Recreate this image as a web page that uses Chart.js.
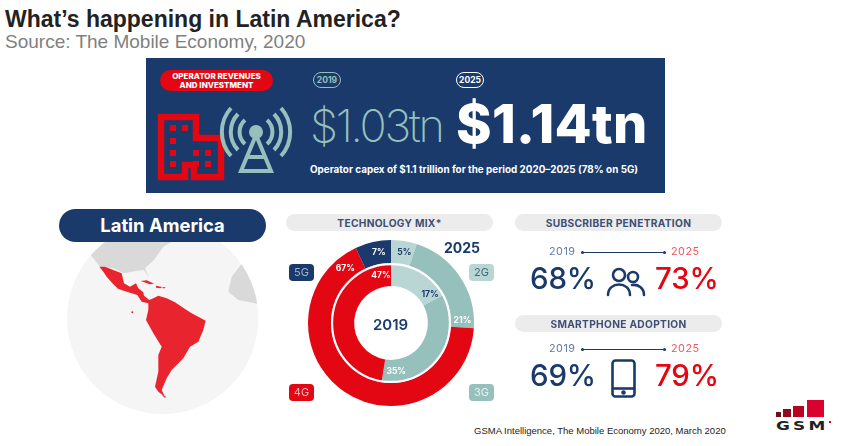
<!DOCTYPE html>
<html>
<head>
<meta charset="utf-8">
<script src="https://cdn.jsdelivr.net/npm/chart.js@4"></script>
<style>
    body { margin: 0; background: #fff; width: 850px; height: 446px; overflow: hidden; position: relative; font-family: Inter, sans-serif; color: #1a3a6b; }
    .t { position: absolute; white-space: nowrap; line-height: 1; }
    .pill { position: absolute; background: #ececec; border-radius: 9px; text-align: center; font-weight: 700; font-size: 10.2px; letter-spacing: .3px; color: #3d4f74; }
    .chip { position: absolute; width: 25px; height: 17px; border-radius: 4px; font-size: 11px; line-height: 17px; text-align: center; }
    .big { font-size: 29.5px; font-weight: 500; letter-spacing: -.2px; }
    .yr { font-size: 10.8px; letter-spacing: .5px; }
    .arrow { position: absolute; height: 1px; background: #1a3a6b; }
    .arrow::before, .arrow::after { content: ''; position: absolute; top: -1px; width: 3px; height: 3px; border-radius: 50%; background: #1a3a6b; }
    .arrow::before { left: 0; }
    .arrow::after { right: 0; }
    svg { position: absolute; overflow: visible; }
    canvas { position: absolute; left: 301px; top: 233px; }
</style>
</head>
<body>
<div class="t" style="left:5px;top:8px;font:bold 23px/1 'Liberation Sans';color:#222">What’s happening in Latin America?</div>
<div class="t" style="left:5px;top:32px;font:19px/1 'Liberation Sans';color:#7f7f7f">Source: The Mobile Economy, 2020</div>

<div style="position:absolute;left:146px;top:58px;width:519px;height:135px;background:#1a3a6b"></div>
<div class="t" style="left:160px;top:70px;width:113px;height:21px;background:#e30613;border-radius:11px"></div>
<div class="t" style="left:160px;top:72px;width:113px;text-align:center;font-size:8px;font-weight:800;color:#fff;line-height:9px">OPERATOR REVENUES<br>AND INVESTMENT</div>
<div class="t" style="left:313px;top:72px;width:26px;height:14px;border:1.5px solid #96c0bc;border-radius:8px;text-align:center;font-size:8.5px;font-weight:700;line-height:14px;color:#96c0bc">2019</div>
<div class="t" style="left:456px;top:72px;width:26px;height:14px;border:1.5px solid #fff;border-radius:8px;text-align:center;font-size:8.5px;font-weight:700;line-height:14px;color:#fff">2025</div>
<div class="t" style="left:310px;top:103px;font-size:45px;font-weight:200;letter-spacing:-2.3px;color:#96c0bc">$1.03tn</div>
<div class="t" style="left:456px;top:97px;font-size:54px;font-weight:800;letter-spacing:.3px;color:#fff">$1.14tn</div>
<div class="t" style="left:310px;top:165px;font-size:9.9px;font-weight:700;color:#fff">Operator capex of $1.1 trillion for the period 2020–2025 (78% on 5G)</div>

<!-- building icon -->
<svg style="left:157px;top:113px" width="66" height="68" viewBox="0 0 66 68" fill="none">
    <path d="M4 64V4H39V25H64V64H37V52H28V64Z" stroke="#e30613" stroke-width="6.5"/>
    <g fill="#e30613">
        <rect x="13" y="12" width="6" height="6"/><rect x="25" y="12" width="6" height="6"/>
        <rect x="13" y="25" width="6" height="6"/><rect x="13" y="37" width="6" height="6"/>
        <rect x="13" y="48" width="6" height="6"/>
        <rect x="36" y="37" width="6" height="6"/><rect x="48" y="37" width="6" height="6"/>
        <rect x="36" y="48" width="6" height="6"/><rect x="48" y="48" width="6" height="6"/>
    </g>
</svg>
<!-- antenna icon -->
<svg style="left:221px;top:107px" width="70" height="70" viewBox="0 0 70 70" fill="none" stroke="#96c0bc">
    <circle cx="35" cy="25" r="7" fill="#96c0bc" stroke="none"/>
    <path d="M35 28L20 64H50Z" stroke-width="4"/>
    <path d="M26 50H44" stroke-width="4"/>
    <g stroke-width="4">
        <path d="M24 13A16 16 0 0 0 24 37"/><path d="M46 13A16 16 0 0 1 46 37"/>
        <path d="M17 7A26 26 0 0 0 17 43"/><path d="M53 7A26 26 0 0 1 53 43"/>
        <path d="M10 1A36 36 0 0 0 10 49"/><path d="M60 1A36 36 0 0 1 60 49"/>
    </g>
</svg>

<!-- map, coordinates in 3x crop space -->
<svg style="left:50px;top:205px" width="225" height="220" viewBox="0 0 675 660">
    <defs><clipPath id="globe"><circle cx="338" cy="340" r="287"/></clipPath></defs>
    <circle cx="338" cy="340" r="287" fill="#f5f5f5"/>
    <g clip-path="url(#globe)" fill="#d9d9d9">
        <path d="M90 40H420L375 105L340 125L312 165L285 190L297 218L282 195L262 197L222 205L190 190L150 185L122 150Z"/>
        <path d="M572 180L545 215L535 260L565 285L625 297L680 320V100Z"/>
    </g>
    <g fill="#e8252f">
        <path d="M148 185L165 185L190 195L215 205L222 235L240 245L258 235L265 250L280 262L282 272L298 285L310 280L325 272L350 280L375 292L405 312L425 325L445 335L467 347L460 375L445 410L420 425L400 460L380 480L365 495L350 520L335 555L345 575L325 560L315 545L325 500L325 450L335 425L310 385L288 345L295 315L295 295L275 290L262 270L235 262L205 252L190 238L170 215L160 200Z"/>
        <path d="M272 228L290 226L312 236L300 238Z"/>
        <path d="M318 242L336 246L332 250L318 248Z"/>
        <path d="M338 246L346 247L345 250L338 250Z"/>
        <path d="M335 570L348 575L345 579Z"/>
        <circle cx="247" cy="322" r="3"/>
    </g>
</svg>
<div class="t" style="left:59px;top:209px;width:207px;height:33px;background:#1a3a6b;border-radius:17px;text-align:center;font-size:18.4px;font-weight:700;line-height:33px;color:#fff">Latin America</div>

<!-- technology mix -->
<div class="pill" style="left:286px;top:214px;width:207px;height:17px;line-height:18px">TECHNOLOGY MIX*</div>
<canvas id="mixChart" width="180" height="180"></canvas>
<div class="t" style="left:444px;top:241px;font-size:14px;font-weight:700">2025</div>
<div class="t" style="left:373px;top:317px;font-size:15px;font-weight:600">2019</div>
<div class="chip" style="left:289px;top:264px;background:#1a3a6b;color:#9fb2cf">5G</div>
<div class="chip" style="left:469px;top:264px;background:#bad6d4;color:#3d6c7a">2G</div>
<div class="chip" style="left:289px;top:384px;background:#e30613;color:#f7b7bb">4G</div>
<div class="chip" style="left:469px;top:384px;background:#96c0bc;color:#e4f0ee">3G</div>

<!-- kpis -->
<div class="pill" style="left:515px;top:214px;width:207px;height:17px;line-height:18px">SUBSCRIBER PENETRATION</div>
<div class="t yr" style="left:549px;top:247px;color:#6279a3">2019</div>
<div class="arrow" style="left:581px;top:252px;width:85px"></div>
<div class="t yr" style="left:671px;top:247px;color:#f0555d">2025</div>
<div class="t big" style="left:530px;top:264px" id="sub19"></div>
<div class="t big" style="left:655px;top:264px;color:#e30613" id="sub25"></div>
<svg style="left:606px;top:267px" width="40" height="30" viewBox="0 0 40 30" fill="none" stroke="#1a3a6b" stroke-width="2.6" stroke-linecap="round">
    <circle cx="13" cy="8" r="6"/><circle cx="27" cy="10" r="5"/>
    <path d="M2 28C2 14 24 14 24 28"/><path d="M26 18C32 17 38 21 38 28"/>
</svg>

<div class="pill" style="left:515px;top:315px;width:207px;height:17px;line-height:18px">SMARTPHONE ADOPTION</div>
<div class="t yr" style="left:549px;top:344px;color:#6279a3">2019</div>
<div class="arrow" style="left:581px;top:349px;width:85px"></div>
<div class="t yr" style="left:671px;top:344px;color:#f0555d">2025</div>
<div class="t big" style="left:530px;top:361px" id="smart19"></div>
<div class="t big" style="left:655px;top:361px;color:#e30613" id="smart25"></div>
<svg style="left:611px;top:359px" width="25" height="39" viewBox="0 0 25 39" fill="none" stroke="#1a3a6b" stroke-width="2.6">
    <rect x="1.5" y="1.5" width="22" height="36" rx="3"/><path d="M1.5 29.5H23.5"/><circle cx="12.5" cy="33.5" r="1" fill="#1a3a6b"/>
</svg>

<div class="t" style="left:474px;top:426px;font:9.5px/1 'Liberation Sans';color:#222">GSMA Intelligence, The Mobile Economy 2020, March 2020</div>

<!-- logo -->
<div style="position:absolute;left:776px;top:412px;width:5px;height:5px;background:#6d0f1f"></div>
<div style="position:absolute;left:783px;top:409px;width:8px;height:8px;background:#91091f"></div>
<div style="position:absolute;left:793px;top:406px;width:11px;height:11px;background:#b9021f"></div>
<div style="position:absolute;left:807px;top:400px;width:17px;height:17px;background:#dc0030"></div>
<div class="t" style="left:776px;top:419px;font:bold 13px/1 'DejaVu Sans';letter-spacing:2.5px;color:#222;transform:scaleX(1.3);transform-origin:left">GSM</div>
<div style="position:absolute;left:829px;top:421px;width:2px;height:2px;background:#dc0030"></div>

<script>
const categories = ['2G', '3G', '4G', '5G'];
const share2025 = [5, 21, 67, 7];
const share2019 = [17, 35, 47, 0];
const subscriberPenetration = [68, 73];
const smartphoneAdoption = [69, 79];

const sliceColors = ['#bad6d4', '#96c0bc', '#e30613', '#1a3a6b'];
const textColors = ['#1a3a6b', '#ffffff', '#ffffff', '#ffffff'];
// how far along each slice its label sits (the labels hug the slice ends in the original)
const labelAlong = [[0.6, 0.93, 0.94, 0.61], [0.87, 0.88, 0.93, 0.5]];

document.getElementById('sub19').textContent = subscriberPenetration[0] + '%';
document.getElementById('sub25').textContent = subscriberPenetration[1] + '%';
document.getElementById('smart19').textContent = smartphoneAdoption[0] + '%';
document.getElementById('smart25').textContent = smartphoneAdoption[1] + '%';

const sliceLabels = {
    id: 'sliceLabels',
    afterDatasetsDraw(chart) {
        const ctx = chart.ctx;
        const first = chart.getDatasetMeta(1).data[0];
        // white ring between the two years
        ctx.save();
        ctx.beginPath();
        ctx.arc(first.x, first.y, first.outerRadius - 1, 0, Math.PI * 2);
        ctx.strokeStyle = '#fff';
        ctx.lineWidth = 2.2;
        ctx.stroke();

        ctx.font = '700 8.5px Inter';
        ctx.textAlign = 'center';
        ctx.textBaseline = 'middle';
        chart.data.datasets.forEach((dataset, d) => {
            chart.getDatasetMeta(d).data.forEach((arc, i) => {
                if (!dataset.data[i]) return;
                const a = arc.startAngle + (arc.endAngle - arc.startAngle) * labelAlong[d][i];
                const r = (arc.innerRadius + arc.outerRadius) / 2;
                ctx.fillStyle = textColors[i];
                ctx.fillText(dataset.data[i] + '%', arc.x + Math.cos(a) * r, arc.y + Math.sin(a) * r);
            });
        });
        ctx.restore();
    }
};

new Chart(document.getElementById('mixChart'), {
    type: 'doughnut',
    data: {
        labels: categories,
        datasets: [
            { label: '2025', data: share2025, backgroundColor: sliceColors, borderWidth: 0 },
            { label: '2019', data: share2019, backgroundColor: sliceColors, borderWidth: 0 }
        ]
    },
    options: {
        responsive: false,
        animation: false,
        radius: 83,
        cutout: 40,
        plugins: { legend: { display: false }, tooltip: { enabled: false } }
    },
    plugins: [sliceLabels]
});
</script>
</body>
</html>
